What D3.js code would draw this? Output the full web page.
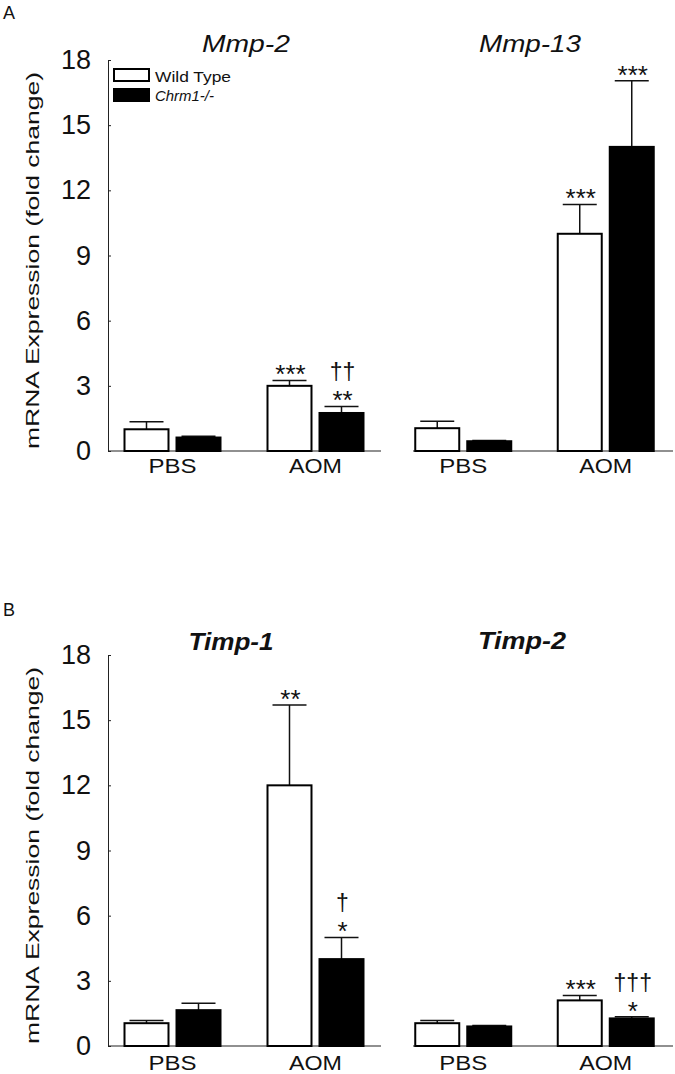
<!DOCTYPE html>
<html>
<head>
    <title>mRNA expression bars</title>
    <script src="https://d3js.org/d3.v7.min.js"></script>
    <style>
        body { margin: 0; background: #fff; }
        text { font-family: "Liberation Sans", Arial, sans-serif; fill: #111; }
    </style>
</head>
<body>
    <svg width="675" height="1074"></svg>
    <script>
        // values
        const genes = ["Mmp-2", "Mmp-13", "Timp-1", "Timp-2"];
        const groups = ["PBS", "AOM"];
        const genotypes = ["Wild Type", "Chrm1-/-"];
        const yTicks = [0, 3, 6, 9, 12, 15, 18];

        const wtMeans  = [[1.0, 3.0], [1.05, 10.0], [1.05, 12.0], [1.05, 2.1]];
        const wtErrors = [[0.35, 0.25], [0.32, 1.35], [0.12, 3.7], [0.12, 0.23]];
        const koMeans  = [[0.62, 1.75], [0.45, 14.0], [1.65, 4.0], [0.9, 1.27]];
        const koErrors = [[0.06, 0.3], [0.03, 3.05], [0.32, 1.0], [0.04, 0.08]];

        const wtStars   = [["", "***"], ["", "***"], ["", "**"], ["", "***"]];
        const koStars   = [["", "**"], ["", "***"], ["", "*"], ["", "*"]];
        const koDaggers = [["", "††"], ["", ""], ["", "†"], ["", "†††"]];

        const svg = d3.select("svg");

        // layout
        const rowBase = [451, 1046],
            plotH = 391,
            colRange = [[101, 387], [392, 677]],
            axisExt = [[108, 381], [413, 673]],
            titlePos = [[246, 52, 88], [530, 52, 102], [231, 650, 85], [522, 649, 88]];

        const y = d3.scaleLinear().domain([0, 18]);
        const inner = d3.scaleBand().domain([0, 1]).range([-48, 48]).paddingInner(0.154);

        // panel letters
        svg.append("text").attr("x", 3).attr("y", 19).style("font-size", "18px").text("A");
        svg.append("text").attr("x", 3).attr("y", 616).style("font-size", "18px").text("B");

        genes.forEach(function(gene, i) {
            const row = Math.floor(i / 2), col = i % 2;
            const base = rowBase[row];
            const yS = y.copy().range([base, base - plotH]);
            const x = d3.scaleBand().domain(groups).range(colRange[col]);
            const g = svg.append("g");

            // title
            g.append("text")
                .attr("x", titlePos[i][0])
                .attr("y", titlePos[i][1])
                .attr("text-anchor", "middle")
                .attr("textLength", titlePos[i][2])
                .attr("lengthAdjust", "spacingAndGlyphs")
                .style("font-size", "24px")
                .style("font-style", "italic")
                .style("font-weight", row === 1 ? "bold" : "normal")
                .text(gene);

            // y axis only on left panels
            if (col === 0) {
                const ax = g.append("g")
                    .attr("transform", "translate(" + axisExt[col][0] + ",0)")
                    .call(d3.axisLeft(yS).tickValues(yTicks).tickSizeInner(-3).tickSizeOuter(0).tickPadding(17));
                ax.selectAll("text").style("font-size", "27px").style("font-family", "Liberation Sans, Arial, sans-serif").attr("fill", "#111");
                ax.selectAll("line, path").attr("stroke", "#222");

                g.append("text")
                    .attr("transform", "translate(39," + (base - plotH / 2 + 5) + ") rotate(-90)")
                    .attr("text-anchor", "middle")
                    .attr("textLength", 377)
                    .attr("lengthAdjust", "spacingAndGlyphs")
                    .style("font-size", "18.5px")
                    .text("mRNA Expression (fold change)");
            }

            // x baseline
            g.append("line")
                .attr("x1", axisExt[col][0]).attr("x2", axisExt[col][1])
                .attr("y1", base).attr("y2", base)
                .attr("stroke", "#222").attr("stroke-width", 1.2);

            // group labels
            groups.forEach(function(grp) {
                g.append("text")
                    .attr("x", x(grp) + x.bandwidth() / 2)
                    .attr("y", base + 22 + row * 2)
                    .attr("text-anchor", "middle")
                    .attr("textLength", grp === "PBS" ? 48 : 53)
                    .attr("lengthAdjust", "spacingAndGlyphs")
                    .style("font-size", "20px")
                    .text(grp);
            });

            // bars
            groups.forEach(function(grp, j) {
                const cx = x(grp) + x.bandwidth() / 2;
                [0, 1].forEach(function(k) {
                    const mean = k === 0 ? wtMeans[i][j] : koMeans[i][j];
                    const err = k === 0 ? wtErrors[i][j] : koErrors[i][j];
                    const bx = cx + inner(k);
                    const bc = bx + inner.bandwidth() / 2;

                    // error bar (upper only)
                    g.append("line")
                        .attr("x1", bc).attr("x2", bc)
                        .attr("y1", yS(mean)).attr("y2", yS(mean + err))
                        .attr("stroke", "#111").attr("stroke-width", 1.5);
                    g.append("line")
                        .attr("x1", bc - 17).attr("x2", bc + 17)
                        .attr("y1", yS(mean + err)).attr("y2", yS(mean + err))
                        .attr("stroke", "#111").attr("stroke-width", 1.5);

                    g.append("rect")
                        .attr("x", bx)
                        .attr("y", yS(mean))
                        .attr("width", inner.bandwidth())
                        .attr("height", base - yS(mean))
                        .attr("fill", k === 0 ? "#fff" : "#000")
                        .attr("stroke", "#000")
                        .attr("stroke-width", 2);

                    // significance marks
                    const capY = yS(mean + err);
                    const stars = k === 0 ? wtStars[i][j] : koStars[i][j];
                    const daggers = k === 0 ? "" : koDaggers[i][j];
                    if (stars) {
                        g.append("text")
                            .attr("x", bc + 1)
                            .attr("y", capY + 3)
                            .attr("text-anchor", "middle")
                            .style("font-size", "26px")
                            .text(stars);
                    }
                    if (daggers) {
                        g.append("text")
                            .attr("x", bc + 1)
                            .attr("y", capY - 26)
                            .attr("text-anchor", "middle")
                            .style("font-size", "23px")
                            .text(daggers);
                    }
                });
            });
        });

        // legend
        const legend = svg.append("g");
        genotypes.forEach(function(name, k) {
            legend.append("rect")
                .attr("x", 114).attr("y", 69 + k * 20)
                .attr("width", 35).attr("height", 12)
                .attr("fill", k === 0 ? "#fff" : "#000")
                .attr("stroke", "#000").attr("stroke-width", 2);
            legend.append("text")
                .attr("x", 155).attr("y", 81.5 + k * 19)
                .attr("textLength", k === 0 ? 76 : 59)
                .attr("lengthAdjust", "spacingAndGlyphs")
                .style("font-size", "14px")
                .style("font-style", k === 1 ? "italic" : "normal")
                .text(name);
        });
    </script>
</body>
</html>
